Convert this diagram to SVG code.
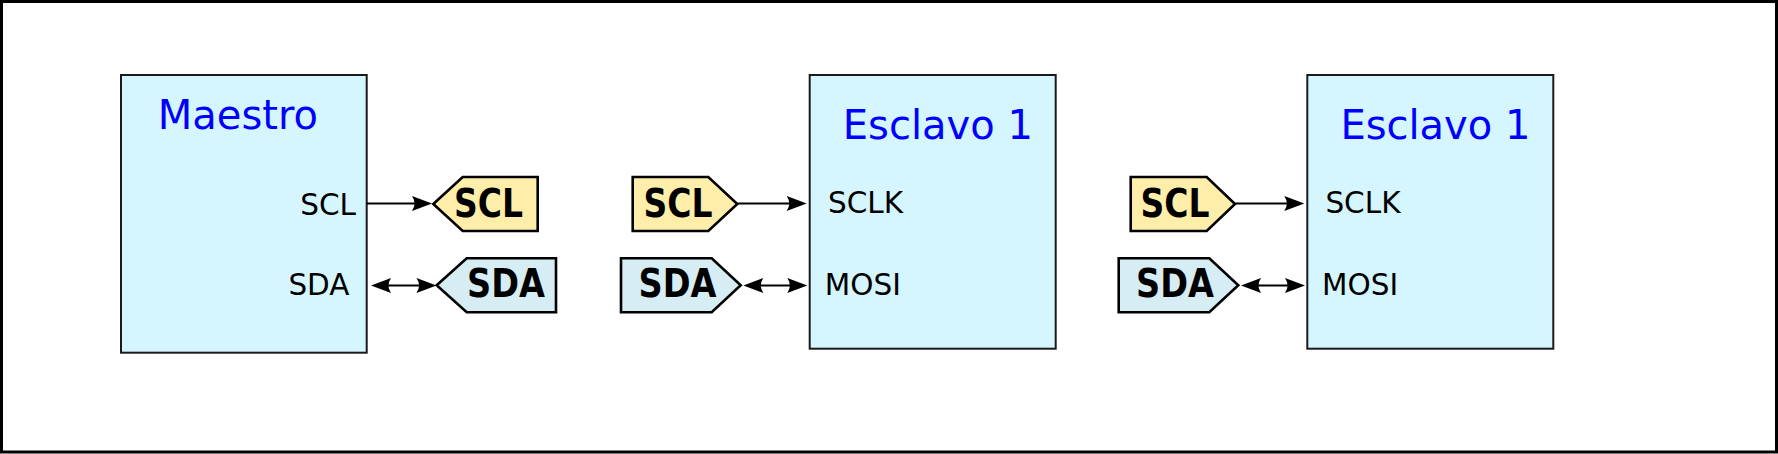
<svg xmlns="http://www.w3.org/2000/svg" width="1778" height="454" viewBox="0 0 1778 454">
<style>
.frame{fill:#ffffff;stroke:#000000;stroke-width:3}
.box{fill:#d5f6ff;stroke:#1a1a1a;stroke-width:2}
.tagc{fill:#ffeeaa;stroke:#000000;stroke-width:2.6;stroke-linejoin:miter}
.tagd{fill:#d7edf4;stroke:#000000;stroke-width:2.6;stroke-linejoin:miter}
.title{font-family:"DejaVu Sans",sans-serif;font-size:40px;fill:#0000ff}
.pin{font-family:"DejaVu Sans",sans-serif;font-size:29.5px;fill:#000000}
.tagt{font-family:"DejaVu Sans",sans-serif;font-weight:bold;font-size:39px;fill:#000000}
.wire{stroke:#000000;stroke-width:2;fill:none}
</style>
<defs>
<marker id="ah" markerUnits="userSpaceOnUse" viewBox="-12 -9 24 18" markerWidth="24" markerHeight="18" refX="0" refY="0" orient="auto-start-reverse" overflow="visible">
<path d="M10,0 L-10,-7.5 Q-5,0 -10,7.5 Z" fill="#000000"/>
</marker>
</defs>
<rect class="frame" x="1.5" y="1.5" width="1775" height="450.5"/>

<g id="maestro">
<rect class="box" x="121" y="75" width="245.7" height="277.7"/>
<text class="title" x="157.8" y="129.3">Maestro</text>
<text class="pin" x="356" y="215" text-anchor="end">SCL</text>
<text class="pin" x="349.5" y="295" text-anchor="end">SDA</text>
</g>

<g id="maestro-scl-tag">
<polygon class="tagc" points="433.3,204 462.7,177 537.7,177 537.7,231 462.7,231"/>
<text class="tagt" x="454" y="216.7" textLength="69" lengthAdjust="spacingAndGlyphs">SCL</text>
</g>
<g id="maestro-sda-tag">
<polygon class="tagd" points="436.7,285.3 466.7,258.3 556,258.3 556,312.3 466.7,312.3"/>
<text class="tagt" x="467" y="297.3" textLength="78" lengthAdjust="spacingAndGlyphs">SDA</text>
</g>

<g id="esclavo1">
<rect class="box" x="809.7" y="75" width="246" height="273.7"/>
<text class="title" x="842.8" y="139">Esclavo 1</text>
<text class="pin" x="828" y="213.3">SCLK</text>
<text class="pin" x="824.8" y="295">MOSI</text>
</g>
<g id="esclavo1-scl-tag">
<polygon class="tagc" points="632.7,177 708.3,177 737.3,204 708.3,231 632.7,231"/>
<text class="tagt" x="643.5" y="216.7" textLength="69" lengthAdjust="spacingAndGlyphs">SCL</text>
</g>
<g id="esclavo1-sda-tag">
<polygon class="tagd" points="621,258.3 711.7,258.3 740.7,285.3 711.7,312.3 621,312.3"/>
<text class="tagt" x="638.5" y="297.3" textLength="78" lengthAdjust="spacingAndGlyphs">SDA</text>
</g>

<g id="esclavo2">
<rect class="box" x="1307.3" y="75" width="246" height="273.7"/>
<text class="title" x="1340.4" y="139">Esclavo 1</text>
<text class="pin" x="1325.4" y="213.3">SCLK</text>
<text class="pin" x="1322.1" y="295">MOSI</text>
</g>
<g id="esclavo2-scl-tag">
<polygon class="tagc" points="1130.7,177 1206.7,177 1235,204 1206.7,231 1130.7,231"/>
<text class="tagt" x="1140.5" y="216.7" textLength="69" lengthAdjust="spacingAndGlyphs">SCL</text>
</g>
<g id="esclavo2-sda-tag">
<polygon class="tagd" points="1118.7,258.3 1209.3,258.3 1238.3,285.3 1209.3,312.3 1118.7,312.3"/>
<text class="tagt" x="1136" y="297.3" textLength="78" lengthAdjust="spacingAndGlyphs">SDA</text>
</g>

<g id="connectors">
<line class="wire" x1="366.7" y1="203.6" x2="422" y2="203.6" marker-end="url(#ah)"/>
<line class="wire" x1="381" y1="285.4" x2="426.5" y2="285.4" marker-start="url(#ah)" marker-end="url(#ah)"/>
<line class="wire" x1="737.3" y1="203.6" x2="796.7" y2="203.6" marker-end="url(#ah)"/>
<line class="wire" x1="753.3" y1="285.4" x2="797.3" y2="285.4" marker-start="url(#ah)" marker-end="url(#ah)"/>
<line class="wire" x1="1235" y1="203.6" x2="1294.3" y2="203.6" marker-end="url(#ah)"/>
<line class="wire" x1="1251" y1="285.4" x2="1295" y2="285.4" marker-start="url(#ah)" marker-end="url(#ah)"/>
</g>
</svg>
